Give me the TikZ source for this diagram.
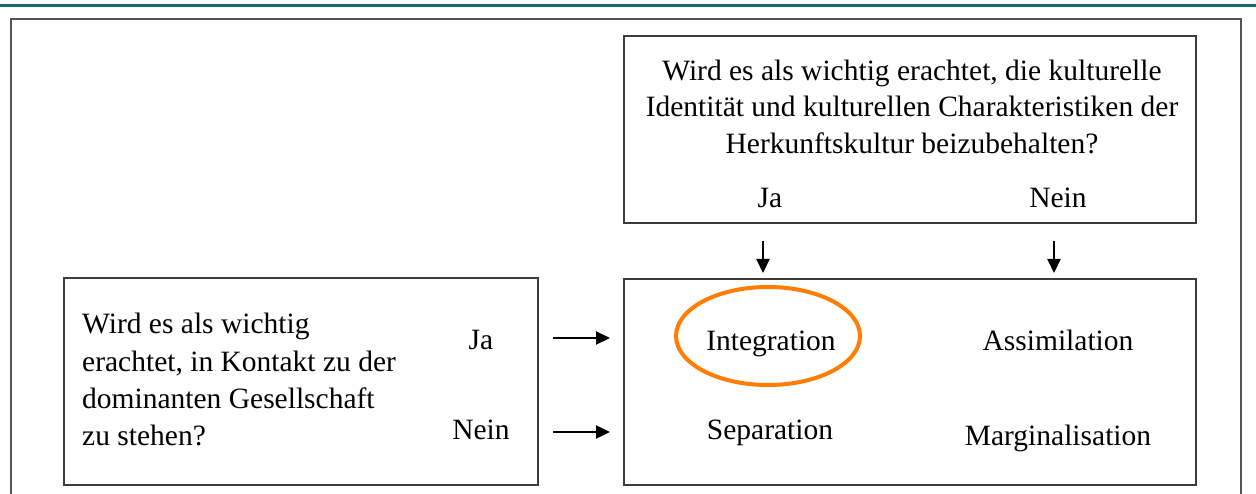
\documentclass[tikz,border=0pt]{standalone}
\usepackage{fontspec}
\setmainfont{Liberation Serif}
\usetikzlibrary{arrows.meta}
\definecolor{teal1}{RGB}{23,105,106}
\definecolor{frame}{RGB}{85,85,85}
\definecolor{boxline}{RGB}{60,60,60}
\definecolor{ring}{RGB}{255,125,0}
\begin{document}
\begin{tikzpicture}[x=1pt,y=-1pt,
  box/.style={draw=boxline,line width=1.7pt,rectangle,inner sep=0pt},
  txt/.style={anchor=base,inner sep=0pt,font=\fontsize{29.5}{36.5}\selectfont},
  ltxt/.style={txt,anchor=base west},
  arr/.style={line width=2.2pt,-{Triangle[length=14pt,width=13pt]}}]
\useasboundingbox (0,0) rectangle (1256,494);
\fill[white] (0,0) rectangle (1256,494);
% top rule
\draw[teal1,line width=3pt] (0,6) -- (1256,6);
% outer frame
\draw[frame,line width=2pt] (10.5,494) -- (10.5,19.5) -- (1241,19.5) -- (1241,494);
% boxes
\node[box,minimum width=572pt,minimum height=187pt] (top) at (910,129.5) {};
\node[box,minimum width=474pt,minimum height=207pt] (left) at (301,381.5) {};
\node[box,minimum width=572pt,minimum height=206pt] (res) at (910,382) {};
% top box text
\node[txt] (t1) at (912,80.5) {Wird es als wichtig erachtet, die kulturelle};
\node[txt] (t2) at (912,117) {Identität und kulturellen Charakteristiken der};
\node[txt] (t3) at (912,153.5) {Herkunftskultur beizubehalten?};
\node[txt] (tja) at (770,207.5) {Ja};
\node[txt] (tnein) at (1058,207.5) {Nein};
% left box text
\node[ltxt] (l1) at (82,334) {Wird es als wichtig};
\node[ltxt] (l2) at (82,371) {erachtet, in Kontakt zu der};
\node[ltxt] (l3) at (82,408) {dominanten Gesellschaft};
\node[ltxt] (l4) at (82,445) {zu stehen?};
\node[txt] (lja) at (481,350) {Ja};
\node[txt] (lnein) at (481,439) {Nein};
% results
\node[txt] (integ) at (771,351) {Integration};
\node[txt] (assim) at (1058,351) {Assimilation};
\node[txt] (sep) at (770,439) {Separation};
\node[txt] (marg) at (1058,445) {Marginalisation};
% highlight ellipse
\draw[ring,line width=4pt] (768,336) ellipse [x radius=92, y radius=49];
% arrows
\coordinate (vja1) at (763,241);
\coordinate (vja2) at (763,273);
\coordinate (vne1) at (1054,241);
\coordinate (vne2) at (1054,273);
\coordinate (hja1) at (553,338);
\coordinate (hja2) at (610,338);
\coordinate (hne1) at (553,432);
\coordinate (hne2) at (610,432);
\draw[arr] (vja1) -- (vja2);
\draw[arr] (vne1) -- (vne2);
\draw[arr] (hja1) -- (hja2);
\draw[arr] (hne1) -- (hne2);
\end{tikzpicture}
\end{document}
